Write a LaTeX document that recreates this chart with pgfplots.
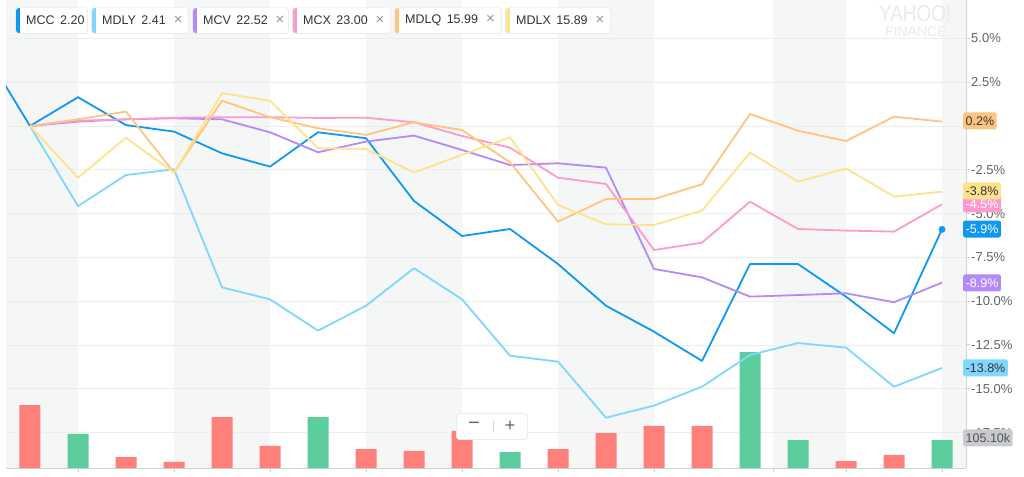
\documentclass[border=0pt]{standalone}
\usepackage{graphicx}
\usepackage{pgfplots}
\pgfplotsset{compat=1.18}
\usepackage{fontspec}
\setmainfont{Liberation Sans}

\definecolor{cMCC}{RGB}{16,152,240}
\definecolor{cMDLY}{RGB}{128,214,252}
\definecolor{cMCV}{RGB}{180,138,248}
\definecolor{cMCX}{RGB}{255,154,206}
\definecolor{cMDLQ}{RGB}{255,196,128}
\definecolor{cMDLX}{RGB}{255,226,140}
\definecolor{cRed}{RGB}{255,128,122}
\definecolor{cGreen}{RGB}{92,206,158}
\definecolor{cStripe}{RGB}{245,247,247}
\definecolor{cGrid}{RGB}{236,238,238}
\definecolor{cAxis}{RGB}{208,210,212}
\definecolor{cTick}{RGB}{96,100,108}
\definecolor{cText}{RGB}{48,52,56}
\definecolor{cVol}{RGB}{200,202,206}
\definecolor{cLogo}{RGB}{232,234,236}

\pgfplotsset{base/.style={at={(6pt,8pt)}, anchor=south west, width=960pt, height=468pt,
  scale only axis, xmin=-0.5, xmax=19.5}}
\pgfplotsset{pct/.style={ymin=-19.52, ymax=7.19}}

\tikzset{lab/.style={anchor=west, rounded corners=2pt, inner xsep=2.5pt, inner ysep=0pt,
  minimum height=17pt, font=\fontsize{12.5}{14}\selectfont}}

\newcommand{\chip}[4]{%
  \begin{scope}[shift={(#1pt,443pt)}]
    \fill[black!7, rounded corners=3pt] (-0.8pt,-1.2pt) rectangle (#2pt+0.8pt,25.6pt);
    \begin{scope}
      \clip[rounded corners=3pt] (0,0) rectangle (#2pt,25pt);
      \fill[white] (0,0) rectangle (#2pt,25pt);
      \fill[#3] (0,0) rectangle (3.5pt,25pt);
    \end{scope}
    \node[anchor=west, inner sep=0pt, text=cText, font=\fontsize{12.5}{15}\selectfont] at (10pt,12.5pt) {#4};
  \end{scope}}
\newcommand{\xx}{\hspace{8pt}{\color{cTick!70}\fontsize{15}{15}\selectfont ×}}

\begin{document}
\begin{tikzpicture}
\path[use as bounding box] (0,0) rectangle (1024pt,476pt);

% background stripes
\begin{axis}[base, pct, hide axis]
  \fill[cStripe] (axis cs:-0.5,-19.52) rectangle (axis cs:1,7.19);
  \fill[cStripe] (axis cs:3,-19.52) rectangle (axis cs:5,7.19);
  \fill[cStripe] (axis cs:7,-19.52) rectangle (axis cs:9,7.19);
  \fill[cStripe] (axis cs:11,-19.52) rectangle (axis cs:13,7.19);
  \fill[cStripe] (axis cs:15.48,-19.52) rectangle (axis cs:17,7.19);
  \fill[cStripe] (axis cs:19,-19.52) rectangle (axis cs:19.5,7.19);
\end{axis}

% grid, ticks, axis lines
\begin{axis}[base, pct,
  axis x line*=bottom, axis y line*=right,
  axis line style={cAxis, line width=1pt},
  xtick={1,3,5,7,9,11,13,15.48,17,19}, xticklabels={,,},
  ytick={-17.5,-15,-12.5,-10,-7.5,-5,-2.5,0,2.5,5},
  yticklabels={-17.5\%,-15.0\%,-12.5\%,-10.0\%,-7.5\%,-5.0\%,-2.5\%,,2.5\%,5.0\%},
  ymajorgrids, grid style={cGrid, line width=0.8pt},
  tick align=outside, major tick length=4pt,
  tick style={cAxis, line width=1pt},
  yticklabel style={font=\fontsize{13}{15}\selectfont, text=cTick, anchor=west, inner xsep=1pt},
]
\end{axis}

% volume bars (thousands)
\begin{axis}[base, ymin=0, ymax=1757, hide axis]
  \addplot[ybar, bar width=21pt, fill=cRed, draw=none] coordinates {
    (0,236) (2,41) (3,23) (4,191) (5,83) (7,71) (8,64) (9,139) (11,71)
    (12,131) (13,158) (14,158) (17,26) (18,49)};
  \addplot[ybar, bar width=21pt, fill=cGreen, draw=none] coordinates {
    (1,128) (6,191) (10,60) (15,435) (16,105) (19,105.1)};
\end{axis}

% percentage lines
\begin{axis}[base, pct, hide axis, clip mode=individual]
  \pgfplotsset{every axis plot/.append style={line width=1.8pt, line join=round, mark=none}}
  \addplot[cMCC] coordinates {(-1,4.5) (0,0) (1,1.64) (2,0.05) (3,-0.32) (4,-1.56) (5,-2.32)
    (6,-0.36) (7,-0.70) (8,-4.28) (9,-6.28) (10,-5.88) (11,-7.88) (12,-10.26) (13,-11.74)
    (14,-13.41) (15,-7.88) (16,-7.88) (17,-9.74) (18,-11.83) (19,-5.9)};
  \addplot[cMDLY] coordinates {(0,0) (1,-4.57) (2,-2.80) (3,-2.47) (4,-9.21) (5,-9.89)
    (6,-11.68) (7,-10.26) (8,-8.12) (9,-9.89) (10,-13.11) (11,-13.45) (12,-16.65) (13,-15.96)
    (14,-14.88) (15,-13.07) (16,-12.39) (17,-12.65) (18,-14.88) (19,-13.81)};
  \addplot[cMCV] coordinates {(0,0) (1,0.25) (2,0.38) (3,0.44) (4,0.38) (5,-0.36) (6,-1.50)
    (7,-0.89) (8,-0.55) (9,-1.37) (10,-2.23) (11,-2.13) (12,-2.38) (13,-8.16) (14,-8.64)
    (15,-9.74) (16,-9.65) (17,-9.55) (18,-10.06) (19,-8.94)};
  \addplot[cMCX] coordinates {(0,0) (1,0.30) (2,0.38) (3,0.47) (4,0.50) (5,0.50) (6,0.46)
    (7,0.47) (8,0.21) (9,-0.57) (10,-1.24) (11,-2.95) (12,-3.31) (13,-7.08) (14,-6.66)
    (15,-4.32) (16,-5.88) (17,-5.97) (18,-6.03) (19,-4.47)};
  \addplot[cMDLQ] coordinates {(0,0) (1,0.38) (2,0.82) (3,-2.66) (4,1.44) (5,0.50) (6,-0.13)
    (7,-0.51) (8,0.21) (9,-0.23) (10,-2.07) (11,-5.46) (12,-4.17) (13,-4.17) (14,-3.33)
    (15,0.68) (16,-0.27) (17,-0.86) (18,0.53) (19,0.25)};
  \addplot[cMDLX] coordinates {(0,0) (1,-2.95) (2,-0.67) (3,-2.66) (4,1.87) (5,1.44) (6,-1.27)
    (7,-1.31) (8,-2.66) (9,-1.65) (10,-0.65) (11,-4.51) (12,-5.61) (13,-5.65) (14,-4.83)
    (15,-1.52) (16,-3.18) (17,-2.42) (18,-4.03) (19,-3.75)};
  \addplot[only marks, mark=*, mark size=3.2pt, line width=0.4pt,
    mark options={solid, draw=cMCC, fill=cMCC}] coordinates {(19,-5.9)};

  \node[lab, fill=cMDLQ, text=cText] at (axis cs:19.5,0.29) [xshift=-3pt] {0.2\%};
  \node[lab, fill=cMCX, text=white] at (axis cs:19.5,-4.45) [xshift=-3pt] {-4.5\%};
  \node[lab, fill=cMDLX, text=cText] at (axis cs:19.5,-3.71) [xshift=-3pt] {-3.8\%};
  \node[lab, fill=cMCC, text=white] at (axis cs:19.5,-5.88) [xshift=-3pt] {-5.9\%};
  \node[lab, fill=cMCV, text=white] at (axis cs:19.5,-8.96) [xshift=-3pt] {-8.9\%};
  \node[lab, fill=cMDLY, text=cText] at (axis cs:19.5,-13.81) [xshift=-3pt] {-13.8\%};
  \node[lab, fill=cVol, text=cText!85] at (axis cs:19.5,-17.8) [xshift=-3pt] {105.10k};
\end{axis}

% legend chips
\chip{16}{71}{cMCC}{MCC\hspace{2pt} 2.20}
\chip{92}{96}{cMDLY}{MDLY\hspace{2pt} 2.41\xx}
\chip{193}{95}{cMCV}{MCV\hspace{2pt} 22.52\xx}
\chip{293}{97}{cMCX}{MCX\hspace{2pt} 23.00\xx}
\chip{395}{106}{cMDLQ}{MDLQ\hspace{2pt} 15.99\xx}
\chip{506}{104}{cMDLX}{MDLX\hspace{2pt} 15.89\xx}

% watermark
\node[anchor=north west, inner sep=0pt, text=cLogo, font=\fontsize{23}{23}\selectfont] at (879pt,471pt) {\scalebox{0.82}[1]{YAHOO!}};
\node[anchor=north west, inner sep=0pt, text=cLogo, font=\fontsize{14}{14}\selectfont] at (885pt,449pt) {FINANCE};

% zoom widget
\fill[black!8, rounded corners=3pt] (456.2pt,36.2pt) rectangle (527.8pt,62.8pt);
\fill[white, rounded corners=3pt] (457pt,37pt) rectangle (527pt,62pt);
\draw[black!15, line width=0.8pt] (493pt,43pt) -- (493pt,56pt);
\node[text=cTick, font=\fontsize{20}{20}\selectfont, inner sep=0pt] at (474pt,50pt) {−};
\node[text=cTick, font=\fontsize{18}{18}\selectfont, inner sep=0pt] at (510pt,50pt) {+};
\end{tikzpicture}
\end{document}
